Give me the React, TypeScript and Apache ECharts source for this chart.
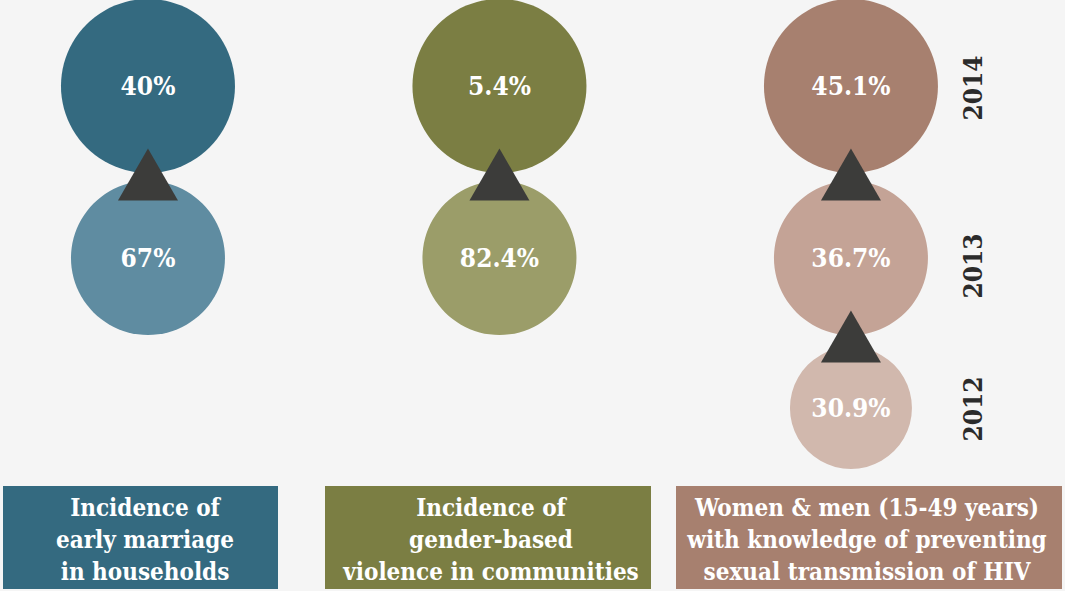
import React, { useEffect, useRef } from "react";
import * as echarts from "echarts";

// ---- data ----
const indicators = [
  "Incidence of\nearly marriage\nin households",
  "Incidence of\ngender-based\nviolence in communities",
  "Women & men (15-49 years)\nwith knowledge of preventing\nsexual transmission of HIV",
];
const years = ["2014", "2013", "2012"];
const values2014 = [40, 5.4, 45.1];
const values2013 = [67, 82.4, 36.7];
const values2012: (number | null)[] = [null, null, 30.9];

// ---- styling / layout ----
const FONT = "'DejaVu Serif Condensed', 'DejaVu Serif', serif";
const darkColors = ["#346a80", "#7b7e43", "#a7806f"];
const yearColors = [
  ["#346a80", "#7b7e43", "#a7806f"],
  ["#5f8ca1", "#9b9d69", "#c4a396"],
  [null, null, "#d1b8ad"],
];
const yearDiameters = [174, 154, 122];
const rowLevel = [0, 1, 1.872]; // vertical level of each year row
const yearLabelShift = [2, 8, 1];
const pxPerLevel = 172;
const yearLabelX = 2.347;
const boxes = [
  { x: 3, w: 275, tx: 145 },
  { x: 325, w: 326, tx: 491 },
  { x: 676, w: 386, tx: 867 },
];

export default function App() {
  const ref = useRef<HTMLDivElement>(null);
  useEffect(() => {
    if (!ref.current) return;
    const chart = echarts.init(ref.current, undefined, { renderer: "svg" });
    const rows = [values2014, values2013, values2012];

    const circleData: any[] = [];
    rows.forEach((vals, r) => {
      vals.forEach((v, c) => {
        if (v == null) return;
        circleData.push({
          value: [c, rowLevel[r], v],
          symbolSize: yearDiameters[r],
          itemStyle: { color: yearColors[r][c], opacity: 1 },
        });
      });
    });

    const triData: any[] = [];
    for (let c = 0; c < indicators.length; c++) {
      for (let r = 0; r < rows.length - 1; r++) {
        if (rows[r][c] != null && rows[r + 1][c] != null) {
          const y = rowLevel[r] + (yearDiameters[r] / 2 + 1.5) / pxPerLevel;
          triData.push([c, y]);
        }
      }
    }

    const yearData = years.map((y, i) => ({
      value: [yearLabelX, rowLevel[i]],
      name: y,
      label: { offset: [-yearLabelShift[i], 0] },
    }));

    const graphics: any[] = [];
    boxes.forEach((b, i) => {
      graphics.push({
        type: "rect",
        shape: { x: b.x, y: 486, width: b.w, height: 103 },
        style: { fill: darkColors[i] },
        silent: true,
      });
      graphics.push({
        type: "text",
        x: b.tx,
        y: 539,
        style: {
          text: indicators[i],
          fill: "#ffffff",
          font: `bold 24px ${FONT}`,
          align: "center",
          verticalAlign: "middle",
          lineHeight: 32,
        },
        silent: true,
      });
    });

    chart.setOption({
      animation: false,
      backgroundColor: "#f5f5f5",
      grid: { left: 0, right: 0, top: 0, bottom: 0 },
      xAxis: { type: "value", min: -0.421, max: 2.609, show: false },
      yAxis: { type: "value", min: -0.5, max: 2.936, inverse: true, show: false },
      series: [
        {
          type: "scatter",
          data: circleData,
          symbol: "circle",
          z: 2,
          itemStyle: { opacity: 1 },
          label: {
            show: true,
            position: "inside",
            formatter: (p: any) => `${p.value[2]}%`,
            color: "#ffffff",
            fontFamily: FONT,
            fontWeight: "bold",
            fontSize: 26,
          },
        },
        {
          type: "scatter",
          data: triData,
          symbol: "triangle",
          symbolSize: [60, 52],
          itemStyle: { color: "#3c3c3a", opacity: 1 },
          z: 3,
        },
        {
          type: "scatter",
          data: yearData,
          symbolSize: 1,
          itemStyle: { color: "rgba(0,0,0,0)", opacity: 1 },
          label: {
            show: true,
            position: "inside",
            rotate: 90,
            formatter: (p: any) => p.name,
            color: "#2b2b2b",
            fontFamily: FONT,
            fontWeight: "bold",
            fontSize: 26,
          },
        },
      ],
      graphic: graphics,
    });
    return () => chart.dispose();
  }, []);
  return (
    <div
      ref={ref}
      style={{ position: "absolute", left: 0, top: 0, width: 1065, height: 591 }}
    />
  );
}
